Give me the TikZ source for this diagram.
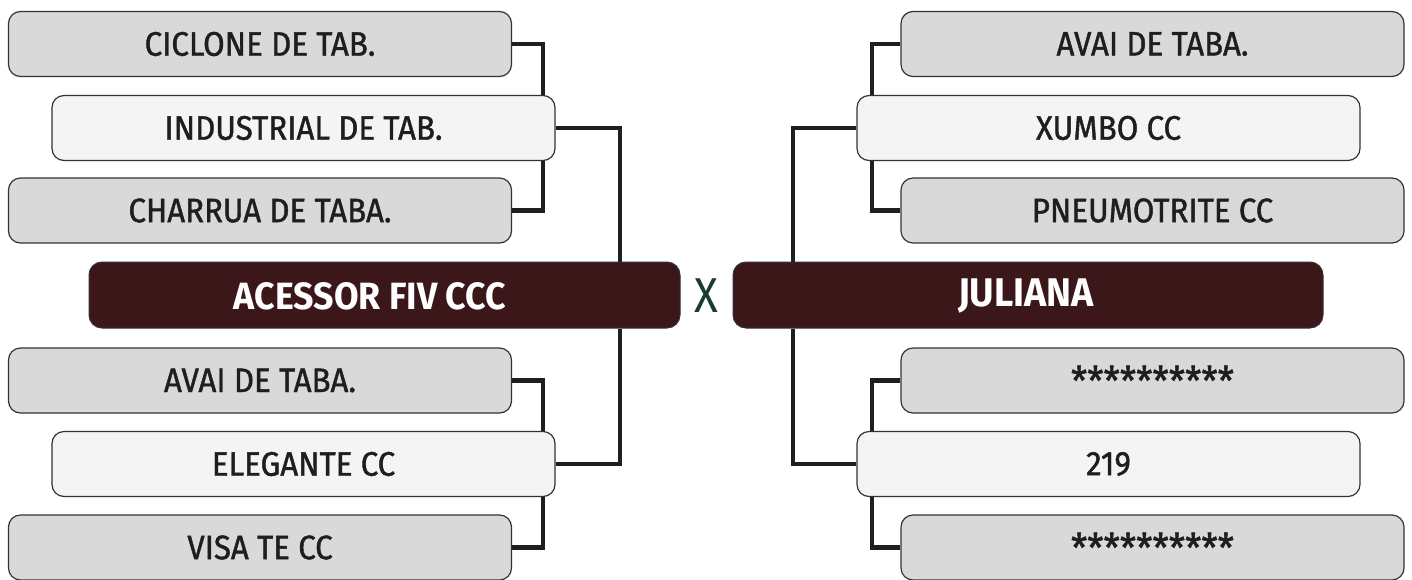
\documentclass[tikz,border=0pt]{standalone}
\usepackage{fontspec}
\setmainfont{Fira Sans}[FakeStretch=0.92,FakeBold=1.2]
\newfontfamily\plainf{Fira Sans}[FakeStretch=0.9]
\newfontfamily\boldf{Fira Sans Bold}[FakeStretch=0.94]
\definecolor{boxgray}{HTML}{D9D9D9}
\definecolor{boxlight}{HTML}{F4F4F4}
\definecolor{maroon}{HTML}{3B1719}
\definecolor{edgec}{HTML}{333333}
\definecolor{linec}{HTML}{1F1F1F}
\definecolor{txt}{HTML}{1E1E1E}
\definecolor{xgreen}{HTML}{1B3D2B}
\begin{document}
\begin{tikzpicture}[x=1pt,y=-1pt,
  teambox/.style={draw=edgec,line width=1.2pt,rounded corners=12pt,minimum width=503pt,minimum height=65pt,inner sep=0pt,text=txt,font=\fontsize{34}{36}\selectfont},
  outerbox/.style={teambox,fill=boxgray},
  innerbox/.style={teambox,fill=boxlight},
  starbox/.style={outerbox,font=\fontsize{40}{42}\selectfont},
  mainbox/.style={draw=edgec,line width=1pt,rounded corners=13pt,fill=maroon,minimum width=591pt,minimum height=66pt,inner sep=0pt},
  maintext/.style={text=white,font=\boldf\fontsize{38}{40}\selectfont,inner sep=0pt},
  conn/.style={draw=linec,line width=4.8pt}]
\useasboundingbox (0,0) rectangle (1412,579);
% left side
\node[outerbox] (c1) at (260,44) {CICLONE DE TAB.};
\node[innerbox] (i1) at (303.5,128) {INDUSTRIAL DE TAB.};
\node[outerbox] (c2) at (260,210.5) {CHARRUA DE TABA.};
\node[mainbox] (ml) at (384.5,295) {};
\node[maintext] (mlt) at (370,296) {ACESSOR FIV CCC};
\node[outerbox] (c3) at (260,380.5) {AVAI DE TABA.};
\node[innerbox] (i2) at (303.5,464) {ELEGANTE CC};
\node[outerbox] (c4) at (260,547.5) {VISA TE CC};
% right side
\node[outerbox] (d1) at (1152.5,44) {AVAI DE TABA.};
\node[innerbox] (j1) at (1108.5,128) {XUMBO CC};
\node[outerbox] (d2) at (1152.5,210.5) {PNEUMOTRITE CC};
\node[mainbox,minimum width=590pt] (mr) at (1028,295) {};
\node[maintext,font=\boldf\fontsize{40}{42}\selectfont] (mrt) at (1026,296) {JULIANA};
\node[starbox] (d3) at (1152.5,380.5) {**********};
\node[innerbox] (j2) at (1108.5,464) {219};
\node[starbox] (d4) at (1152.5,547.5) {**********};
% vs
\node[text=xgreen,font=\plainf\fontsize{49}{50}\selectfont,inner sep=0pt] (vs) at (706,296) {X};
% joint columns
\coordinate (jl) at (543,0);
\coordinate (kl) at (620,0);
\coordinate (jr) at (872,0);
\coordinate (kr) at (793,0);
% left connectors
\draw[conn] (c1.east) -| (jl |- i1.north);
\draw[conn] (c2.east) -| (jl |- i1.south);
\draw[conn] (c3.east) -| (jl |- i2.north);
\draw[conn] (c4.east) -| (jl |- i2.south);
\draw[conn] (i1.east) -| (kl |- ml.north);
\draw[conn] (i2.east) -| (kl |- ml.south);
% right connectors
\draw[conn] (d1.west) -| (jr |- j1.north);
\draw[conn] (d2.west) -| (jr |- j1.south);
\draw[conn] (d3.west) -| (jr |- j2.north);
\draw[conn] (d4.west) -| (jr |- j2.south);
\draw[conn] (j1.west) -| (kr |- mr.north);
\draw[conn] (j2.west) -| (kr |- mr.south);
\end{tikzpicture}
\end{document}
